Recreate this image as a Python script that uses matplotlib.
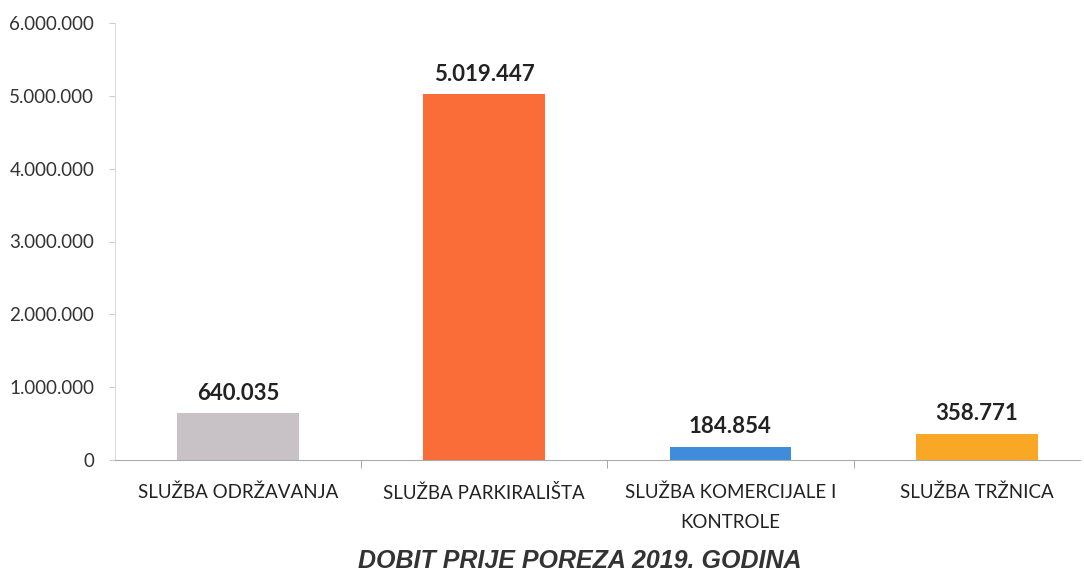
import matplotlib
matplotlib.use("Agg")
import matplotlib.pyplot as plt
import numpy as np

categories = ["SLUŽBA ODRŽAVANJA", "SLUŽBA PARKIRALIŠTA", "SLUŽBA KOMERCIJALE I\nKONTROLE", "SLUŽBA TRŽNICA"]
values = [640035, 5019447, 184854, 358771]
value_labels = ["640.035", "5.019.447", "184.854", "358.771"]
bar_colors = ["#C8C2C7", "#FA6C38", "#3F8CDB", "#F9A825"]
y_ticks = [0, 1000000, 2000000, 3000000, 4000000, 5000000, 6000000]
y_tick_labels = ["0", "1.000.000", "2.000.000", "3.000.000", "4.000.000", "5.000.000", "6.000.000"]
title = "DOBIT PRIJE POREZA 2019. GODINA"

plt.rcParams["font.family"] = ["Lato", "DejaVu Sans"]

fig = plt.figure(figsize=(10.84, 5.75), dpi=100)
ax = fig.add_axes([115 / 1084, (575 - 460) / 575, (1080 - 115) / 1084, (460 - 23) / 575])

x = np.arange(len(categories))
ax.bar(x, values, width=0.495, color=bar_colors)

for xi, v, lab in zip(x, values, value_labels):
    ax.text(xi, v + 130000, lab, ha="center", va="bottom", fontsize=16,
            fontweight="bold", color="#222222")

ax.set_xlim(-0.5, 3.42)
ax.set_ylim(0, 6000000)
ax.set_yticks(y_ticks)
ax.set_yticklabels(y_tick_labels, fontsize=13.5, color="#333333")

ax.set_xticks(x)
ax.set_xticklabels(categories, fontsize=13.5, color="#222222", linespacing=1.95)
ax.tick_params(axis="x", length=0, pad=17)
ax.tick_params(axis="y", length=4, color="#cccccc", pad=11)
# boundary ticks between categories
ax.set_xticks(x[:-1] + 0.5, minor=True)
ax.tick_params(axis="x", which="minor", length=6, color="#999999")

for s in ["top", "right"]:
    ax.spines[s].set_visible(False)
ax.spines["left"].set_color("#dddddd")
ax.spines["bottom"].set_color("#aaaaaa")

fig.text(580 / 1084, 1 - 561 / 575, title, ha="center", va="center",
         fontsize=18, fontweight="bold", style="italic", color="#333333",
         family=["Liberation Sans", "DejaVu Sans"])

fig.savefig("out.png", dpi=100)
